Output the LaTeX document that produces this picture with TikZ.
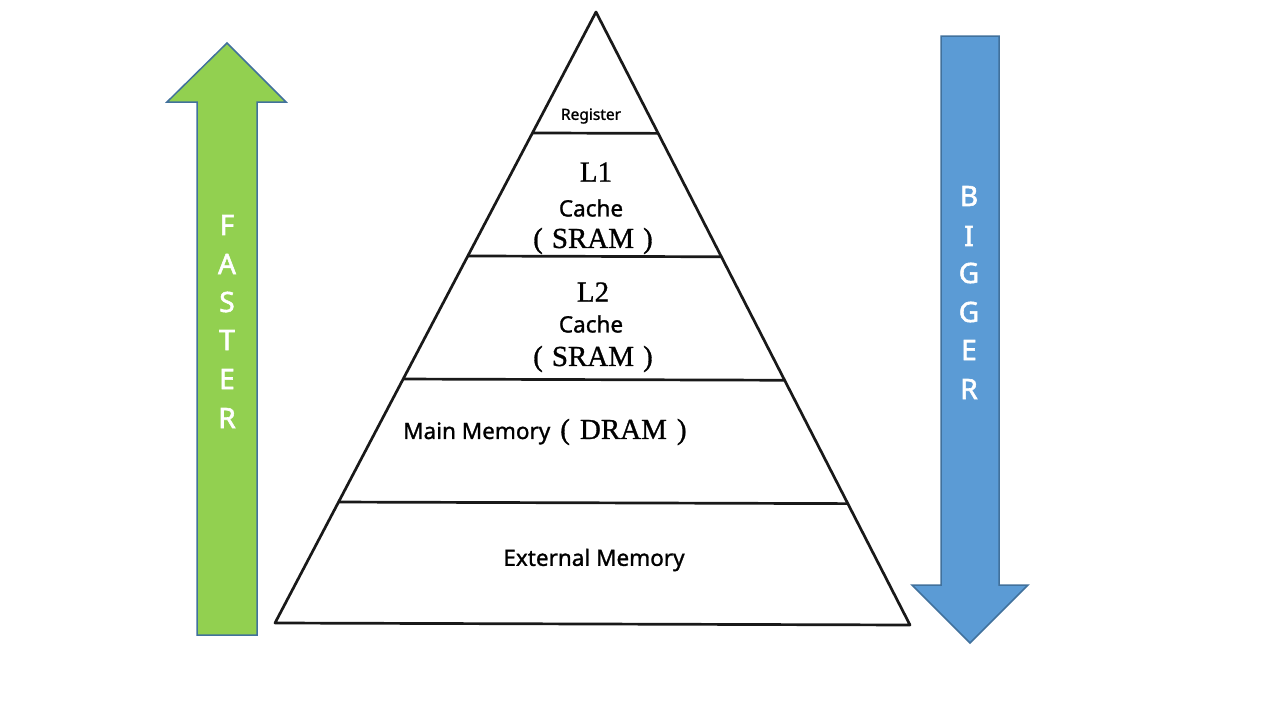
\documentclass[tikz,border=0pt]{standalone}
\usepackage{fontspec}
\setmainfont{Liberation Serif}
\newfontfamily\uisans[FakeBold=1.2]{Noto Sans}
\newfontfamily\uiserif[FakeBold=1.0]{Liberation Serif}
\newfontfamily\arrowsans[FakeBold=2.0]{Noto Sans}
\usetikzlibrary{calc}
\definecolor{greenfill}{HTML}{92D050}
\definecolor{bluefill}{HTML}{5B9BD5}
\definecolor{arrowline}{HTML}{41719C}
\tikzset{
  pyr/.style={line width=2.7pt, black!90, line join=round},
  bigarrow/.style={line width=1.5pt, draw=arrowline},
  sanslbl/.style={font=\uisans\fontsize{22.5}{26}\selectfont, inner sep=0pt},
  seriflbl/.style={font=\uiserif\fontsize{29}{31}\selectfont, inner sep=0pt},
  letter/.style={font=\arrowsans\fontsize{28}{30}\selectfont, text=white, inner sep=0pt},
}
\begin{document}
\begin{tikzpicture}[x=1pt,y=-1pt]
\useasboundingbox (0,0) rectangle (1280,720);
\fill[white] (0,0) rectangle (1280,720);

% pyramid
\coordinate (apex) at (596,12);
\coordinate (bl) at (275,623);
\coordinate (br) at (910,625);
\draw[pyr] (apex) -- (bl) -- (br) -- cycle;
\foreach \t/\n in {0.198/a,0.3993/b,0.6007/c,0.8020/d}{
  \coordinate (l\n) at ($(apex)!\t!(bl)$);
  \coordinate (r\n) at ($(apex)!\t!(br)$);
  \draw[pyr] (l\n) -- (r\n);
}

% labels
\node[sanslbl, font=\uisans\fontsize{15.5}{17}\selectfont] (reg) at (591,116) {Register};
\node[seriflbl] (l1) at (596,172) {L1};
\node[sanslbl] (c1) at (591,208) {Cache};
\node[seriflbl] (s1) at (593,241) {(\hspace{9pt}SRAM\hspace{9pt})};
\node[seriflbl] (l2) at (593,292) {L2};
\node[sanslbl] (c2) at (591,324) {Cache};
\node[seriflbl] (s2) at (593,359) {(\hspace{9pt}SRAM\hspace{9pt})};
\node[sanslbl, anchor=west] (mm) at (403,432) {Main Memory\hspace{10pt}{\uiserif\fontsize{29}{31}\selectfont(\hspace{10pt}DRAM\hspace{10pt})}};
\node[sanslbl] (ext) at (594,560) {External Memory};

% green arrow
\draw[bigarrow, fill=greenfill] (227,43) -- (286,102) -- (257,102) -- (257,635)
  -- (197,635) -- (197,102) -- (167,102) -- cycle;
\foreach \ch/\yy [count=\i] in {F/225,A/264,S/302,T/340,E/379,R/418}{
  \node[letter] (fa\i) at (227,\yy) {\ch};
}

% blue arrow
\draw[bigarrow, fill=bluefill] (941,36) -- (999,36) -- (999,585) -- (1028,585)
  -- (970,643) -- (912,585) -- (941,585) -- cycle;
\foreach \ch/\yy [count=\i] in {B/196,I/236,G/273,G/312,E/350,R/389}{
  \node[letter] (bi\i) at (969,\yy) {\ch};
}
\end{tikzpicture}
\end{document}
